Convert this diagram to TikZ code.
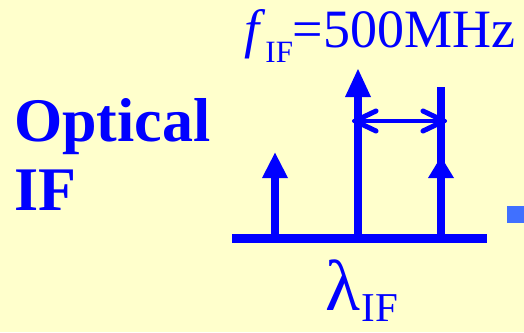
\documentclass[tikz,border=0pt]{standalone}
\usepackage{fontspec}
\setmainfont{Liberation Serif}
\usetikzlibrary{arrows.meta}
\definecolor{bg}{RGB}{255,255,204}
\definecolor{sqblue}{RGB}{64,112,255}
\tikzset{
  txt/.style={text=blue, inner sep=0pt, anchor=base west},
  stem/.style={draw=blue, line width=8.5pt},
  head/.style={fill=blue},
  barb/.style={draw=blue, line width=5pt, line cap=round, line join=round},
}
\begin{document}
\begin{tikzpicture}[x=1pt,y=-1pt]
\fill[bg] (0,0) rectangle (524,332);
\useasboundingbox (0,0) rectangle (524,332);
\clip (0,0) rectangle (524,332);
% left label
\node[txt, font=\fontsize{62}{62}\selectfont\bfseries] (opt) at (14,141.7) {Optical};
\node[txt, font=\fontsize{62}{62}\selectfont\bfseries] (if) at (14,210) {IF};
% top label
\node[txt, font=\fontsize{54}{54}\selectfont] (fif) at (244,47)
  {\textit{f}\raisebox{-15pt}{\fontsize{31}{31}\selectfont IF}=500MHz};
% axis
\draw[stem, line width=9pt] (232,238.5) -- (487,238.5);
% left arrow
\draw[stem] (275,238) -- (275,176);
\fill[head] (262,178) -- (275,152.7) -- (288,178) -- cycle;
% middle arrow
\draw[stem] (358,238) -- (358,95);
\fill[head] (345,97) -- (358,69) -- (371,97) -- cycle;
% right line with arrow
\draw[stem, line width=8pt] (441,238) -- (441,87);
\fill[head] (428,178) -- (441,156.7) -- (454,178) -- cycle;
% double arrow
\draw[barb, line width=4pt] (354,121) -- (445,121);
\draw[barb] (376,111) -- (355,121) -- (376,131);
\draw[barb] (423,111) -- (444,121) -- (423,131);
% lambda
\node[txt, font=\fontsize{72}{72}\selectfont, text depth=0pt] (lam) at (325,310) {λ};
\node[txt, font=\fontsize{41}{41}\selectfont, text depth=0pt] (lamsub) at ([xshift=1pt,yshift=-11pt]lam.base east) {IF};
% bullet square
\fill[sqblue] (507,206) rectangle (526,223);
\end{tikzpicture}
\end{document}
